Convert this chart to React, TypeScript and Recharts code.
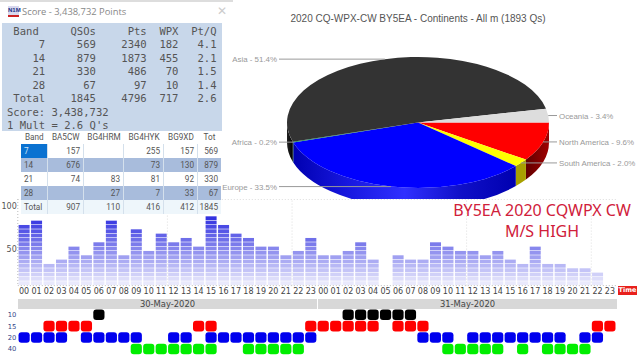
import { Bar, BarChart, Cell, Pie, PieChart, ReferenceLine, Scatter, ScatterChart, XAxis, YAxis } from "recharts";

// score window
const scoreBands = ["7", "14", "21", "28", "Total"];
const scoreQsos = [569, 879, 330, 67, 1845];
const scorePts = [2340, 1873, 486, 97, 4796];
const scoreWpx = [182, 455, 70, 10, 717];
const scorePtq = ["4.1", "2.1", "1.5", "1.4", "2.6"];

// operator table
const opHeaders = ["Band", "BA5CW", "BG4HRM", "BG4HYK", "BG9XD", "Tot"];
const opRows = [
  ["7", "157", "", "255", "157", "569"],
  ["14", "676", "", "73", "130", "879"],
  ["21", "74", "83", "81", "92", "330"],
  ["28", "", "27", "7", "33", "67"],
  ["Total", "907", "110", "416", "412", "1845"],
];

// continents
const continents = ["North America", "South America", "Europe", "Africa", "Asia", "Oceania"];
const continentShare = [9.6, 2.0, 33.5, 0.2, 51.4, 3.4];
const topColors = ["#ff0000", "#ffff00", "#0000ff", "#109060", "#333333", "#dddddd"];

// hourly rate
const hourLabels = ["00","01","02","03","04","05","06","07","08","09","10","11","12","13","14","15","16","17","18","19","20","21","22","23"];
const rate30 = [70, 75, 25, 30, 45, 35, 50, 75, 35, 65, 40, 60, 50, 55, 45, 80, 70, 60, 55, 45, 45, 35, 40, 55];
const rate31 = [35, 35, 40, 50, 30, 0, 35, 30, 30, 50, 45, 40, 40, 35, 40, 30, 25, 45, 25, 25, 20, 20, 15, 0];
const dayLabels = ["30-May-2020", "31-May-2020"];

// band activity, hours per day
const bandNames = ["10", "15", "20", "40"];
const band10 = [[6], [2, 3, 4, 5, 6, 7]];
const band15 = [[2, 3, 4, 5, 14, 15, 23], [0, 1, 2, 3, 4, 6, 7, 8, 22, 23]];
const band20 = [[0, 1, 2, 3, 5, 6, 7, 8, 9, 12, 13, 15, 16, 17, 18, 19, 20, 21, 22, 23], [8, 9, 10, 12, 13, 14, 15, 16, 17, 18, 19, 21, 22]];
const band40 = [[9, 10, 11, 12, 13, 14, 15, 18, 19, 20, 21, 22], [10, 11, 12, 13, 14, 16, 18, 19, 20, 21]];
const bandHours = [band10, band15, band20, band40];
const bandColors = ["#000000", "#ff0000", "#0000ee", "#00ee00"];

const pieData = continents.map((name, i) => ({ name, value: continentShare[i] }));
const rateData = [...rate30, ...rate31].map((rate, i) => ({ slot: i, rate }));
const bandData = bandHours.map((days, row) => [
  ...days[0].map((h) => ({ x: h, row })),
  ...days[1].map((h) => ({ x: h + 24, row })),
]);

const RAD = Math.PI / 180;
const RY_RATIO = 0.5;
const DEPTH = 20;

function PieSlice(p: any) {
  const { cx, cy, outerRadius: rx } = p;
  const ry = rx * RY_RATIO;
  const a0 = -p.startAngle;
  const a1 = -p.endAngle;
  const pt = (a: number, dy = 0) => `${cx + rx * Math.cos(a * RAD)} ${cy + ry * Math.sin(a * RAD) + dy}`;
  const large = a1 - a0 > 180 ? 1 : 0;
  const top = `M${cx} ${cy}L${pt(a0)}A${rx} ${ry} 0 ${large} 1 ${pt(a1)}Z`;
  const w1 = Math.min(a1, 180);
  const gid = `wall-${Math.round(a0)}`;
  const wallStops: Record<string, string[]> = {
    "#ff0000": ["#a00000", "#600000"],
    "#ffff00": ["#a8a000", "#a8a000"],
    "#0000ff": ["#0000b0", "#1010c8", "#3030ff", "#1818e0", "#0000b0"],
    "#109060": ["#006030", "#006030"],
    "#333333": ["#000000", "#222222"],
    "#dddddd": ["#aaaaaa", "#aaaaaa"],
  };
  const stops = wallStops[p.fill] ?? ["#000", "#000"];
  return (
    <g>
      {a0 < 180 && (
        <>
          <defs>
            <linearGradient id={gid} x1="1" y1="0" x2="0" y2="0">
              {stops.map((c, i) => (
                <stop key={i} offset={i / (stops.length - 1)} stopColor={c} />
              ))}
            </linearGradient>
          </defs>
          <path
            d={`M${pt(a0)}A${rx} ${ry} 0 0 1 ${pt(w1)}L${pt(w1, DEPTH)}A${rx} ${ry} 0 0 0 ${pt(a0, DEPTH)}Z`}
            fill={`url(#${gid})`}
          />
        </>
      )}
      <path d={top} fill={p.fill} />
    </g>
  );
}

function PieLabel(p: any) {
  const { cx, cy, outerRadius: rx, midAngle, name, value } = p;
  const a = -midAngle * RAD;
  const px = cx + rx * Math.cos(a);
  const py = cy + rx * RY_RATIO * Math.sin(a);
  const right = Math.cos(a) > 0;
  const end = right ? cx + 139 : cx - 139;
  return (
    <g>
      <line x1={px} y1={py} x2={end} y2={py} stroke="#999999" strokeWidth={1} />
      <text
        x={right ? end + 2 : end - 2}
        y={py}
        dy={3}
        textAnchor={right ? "start" : "end"}
        fontSize={7.9}
        fontFamily="Liberation Sans"
        fill="#999999"
      >
        {`${name} - ${value.toFixed(1)}%`}
      </text>
    </g>
  );
}

function RateBar(p: any) {
  const { x, y, width, height, rate } = p;
  if (!rate) return null;
  const count = rate / 5;
  const seg = height / count;
  const rects = [];
  for (let i = 0; i < count; i++) {
    const t = ((count - i) * 5) / 80;
    const r = Math.round(245 - 195 * t);
    const b = Math.round(254 - 30 * t);
    rects.push(<rect key={i} x={x} y={y + i * seg} width={width} height={seg - 0.6} fill={`rgb(${r},${r},${b})`} />);
  }
  return <g>{rects}</g>;
}

function RateTick(p: any) {
  return (
    <text x={p.x - 1} y={p.y} dy={9.5} textAnchor="end" fontSize={8} fontFamily="DejaVu Sans" fill="#555555">
      {p.payload.value}
    </text>
  );
}

function BandSquare(p: any) {
  const w = 11.2;
  const h = 10.6;
  return <rect x={p.cx - w / 2} y={p.cy - h / 2} width={w} height={h} rx={3} fill={p.fill} />;
}

const pad = (v: any, n: number) => String(v).padStart(n);
const scoreLines = [
  " Band     QSOs     Pts  WPX  Pt/Q",
  ...scoreBands.map(
    (b, i) =>
      (b === "Total" ? " Total" : pad(b, 6)) +
      pad(scoreQsos[i], 8) + pad(scorePts[i], 8) + pad(scoreWpx[i], 5) + pad(scorePtq[i], 6)
  ),
  "Score: 3,438,732",
  "1 Mult = 2.6 Q's",
];

const opWidths = [26.5, 36.5, 40, 40, 34, 23];
const dotted = { stroke: "#bbbbbb", strokeDasharray: "1 2" };

export default function App() {
  return (
    <div style={{ position: "absolute", left: 0, top: 0, width: 640, height: 355, background: "#fff", overflow: "hidden" }}>
      {/* pie */}
      <div style={{ position: "absolute", left: 218, top: 13, width: 400, textAlign: "center", fontFamily: "Liberation Sans", fontSize: 10, color: "#555" }}>
        2020 CQ-WPX-CW BY5EA - Continents - All m (1893 Qs)
      </div>
      <div style={{ position: "absolute", left: 220, top: 0 }}>
        <PieChart width={420} height={199} margin={{ top: 0, right: 0, bottom: 0, left: 0 }}>
          <Pie
            data={pieData}
            dataKey="value"
            nameKey="name"
            cx={198}
            cy={122.5}
            outerRadius={131}
            startAngle={0}
            endAngle={-360}
            stroke="none"
            shape={PieSlice}
            label={PieLabel}
            labelLine={false}
            isAnimationActive={false}
          >
            {pieData.map((d, i) => (
              <Cell key={d.name} fill={topColors[i]} />
            ))}
          </Pie>
        </PieChart>
      </div>

      {/* hourly rate */}
      <div style={{ position: "absolute", left: 0, top: 199 }}>
        <BarChart width={640} height={100} data={rateData} margin={{ top: 0, right: 23.8, bottom: 0, left: 0 }} barCategoryGap={0.8}>
          <XAxis
            dataKey="slot"
            interval={0}
            height={13.4}
            axisLine={dotted}
            tickLine={false}
            tickSize={0}
            tick={{ fontSize: 8, fontFamily: "DejaVu Sans", fill: "#444444", dy: 1 }}
            tickFormatter={(v: number) => hourLabels[v % 24]}
          />
          <YAxis width={17.8} domain={[0, 100]} ticks={[50, 100]} axisLine={dotted} tickLine={false} tickSize={0} tickMargin={0} interval={0} tick={RateTick} />
          <ReferenceLine y={100} stroke="#bbbbbb" strokeDasharray="1 2" segment={[{ x: 0, y: 100 }, { x: 46, y: 100 }]} />
          {[12, 22, 36, 46].map((s) => (
            <ReferenceLine key={s} x={s} position="start" stroke="#dddddd" strokeDasharray="1 2" />
          ))}
          <Bar dataKey="rate" shape={RateBar} isAnimationActive={false} />
        </BarChart>
      </div>
      {dayLabels.map((d, i) => (
        <div
          key={d}
          style={{
            position: "absolute", left: i === 0 ? 18 : 318, top: 299, width: 299, height: 10,
            background: "#d8d8d8", textAlign: "center", fontFamily: "DejaVu Sans", fontSize: 8.4, lineHeight: "10px", color: "#444",
          }}
        >
          {d}
        </div>
      ))}
      <div style={{ position: "absolute", left: 618, top: 286, width: 19, height: 9, background: "#e8201c", color: "#fff", fontFamily: "DejaVu Sans", fontWeight: 700, fontSize: 6.5, lineHeight: "9px", textAlign: "center" }}>
        Time
      </div>

      {/* band activity */}
      <div style={{ position: "absolute", left: 0, top: 309.3 }}>
        <ScatterChart width={640} height={45.7} margin={{ top: 0, right: 23.8, bottom: 0, left: 0 }}>
          <XAxis type="number" dataKey="x" domain={[-0.5, 47.5]} hide />
          <YAxis
            type="number"
            dataKey="row"
            domain={[-0.5, 3.5]}
            ticks={[0, 1, 2, 3]}
            reversed
            width={17.8}
            axisLine={false}
            tickLine={false}
            tickSize={0}
            tickMargin={1.5}
            interval={0}
            tick={{ fontSize: 6.8, fontFamily: "DejaVu Sans", fill: "#334488" }}
            tickFormatter={(v: number) => bandNames[v]}
          />
          {bandData.map((points, i) => (
            <Scatter key={bandNames[i]} data={points} fill={bandColors[i]} shape={BandSquare} isAnimationActive={false} />
          ))}
        </ScatterChart>
      </div>

      {/* caption */}
      <div style={{ position: "absolute", left: 440, top: 200, width: 204, textAlign: "center", fontFamily: "Noto Sans", fontSize: 16, lineHeight: "21px", color: "#d0203a" }}>
        BY5EA 2020 CQWPX CW
        <br />
        M/S HIGH
      </div>

      {/* score window */}
      <div style={{ position: "absolute", left: 0, top: 0, width: 233, height: 23, background: "#fff", borderTop: "2px solid #dddddd", boxSizing: "border-box" }}>
        <div style={{ position: "absolute", left: 8, top: 4, width: 11, height: 11, background: "#d8d8ee", color: "#223388", fontFamily: "Liberation Sans", fontWeight: 700, fontSize: 6, lineHeight: "9px", textAlign: "center", borderBottom: "2px solid #cc2222", boxSizing: "border-box" }}>
          N1M
        </div>
        <div style={{ position: "absolute", left: 22, top: 3, fontFamily: "Open Sans", fontSize: 9.4, lineHeight: "13px", color: "#888" }}>
          Score - 3,438,732 Points
        </div>
        <div style={{ position: "absolute", left: 217, top: 2, fontFamily: "Liberation Sans", fontSize: 12, lineHeight: "14px", color: "#cccccc" }}>
          ✕
        </div>
      </div>
      <pre style={{ position: "absolute", left: 2, top: 23, margin: 0, width: 220, height: 108, padding: "2px 0 0 5px", boxSizing: "border-box", overflow: "hidden", background: "#c8d7ea", fontFamily: "DejaVu Sans Mono", fontSize: 10.55, lineHeight: "13.45px", color: "#555" }}>
        {scoreLines.join("\n")}
      </pre>

      {/* operator table */}
      <div style={{ position: "absolute", left: 21, top: 131, width: 200, fontFamily: "Roboto", fontSize: 8.2, color: "#555" }}>
        {[opHeaders, ...opRows].map((row, r) => (
          <div
            key={r}
            style={{
              display: "flex",
              height: r === 0 ? 13 : 14.1,
              lineHeight: r === 0 ? "13px" : "14.1px",
              background: r === 2 || r === 4 ? "#a8bcdc" : r === 5 ? "#eef6fb" : "#ffffff",
            }}
          >
            {row.map((cell, c) => (
              <div
                key={c}
                style={{
                  width: opWidths[c],
                  boxSizing: "border-box",
                  textAlign: r === 0 ? "center" : c === 0 ? "left" : "right",
                  padding: r === 0 ? 0 : c === 0 ? "0 0 0 3px" : "0 3px 0 0",
                  background: r === 1 && c === 0 ? "#0b72d1" : undefined,
                  color: r === 1 && c === 0 ? "#cfe4f7" : undefined,
                  borderRight: r > 0 && c < 5 ? "1px solid #d4e0ec" : undefined,
                }}
              >
                {cell}
              </div>
            ))}
          </div>
        ))}
      </div>
    </div>
  );
}
